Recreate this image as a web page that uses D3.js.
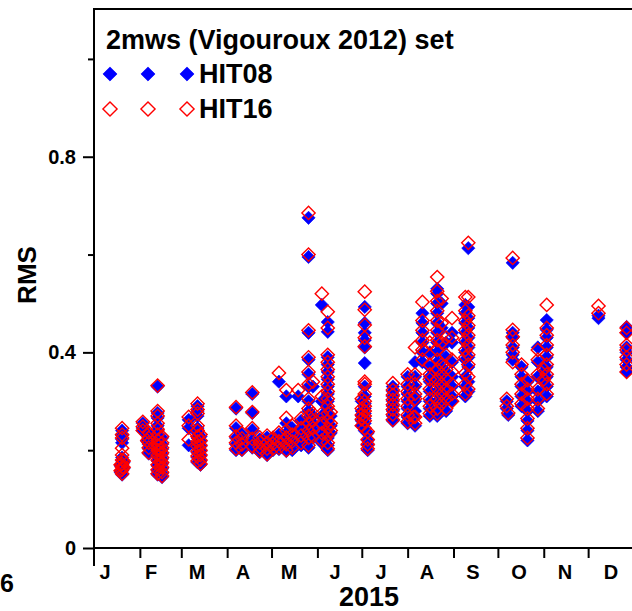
<html>

<head>
  <title>RMS 2mws HIT08 / HIT16</title>
  <style>
    body { margin: 0; background: #fff; }
    text { font-family: "Liberation Sans", Arial, sans-serif; font-weight: bold; }
  </style>
</head>

<body>
  <script src="https://d3js.org/d3.v7.min.js"></script>
  <script>
    // day of year, RMS for HIT08 and HIT16
    var days = [
      19, 19, 19, 19, 19, 19, 19, 19, 19, 19, 20, 20, 18, 18,
      33, 33, 33, 37, 37, 37, 37, 37, 36,
      43, 43, 43, 43, 43, 43, 43, 43, 43, 43, 43, 43, 43, 43,
      46, 46, 46, 46, 46, 46, 46, 46, 46, 45, 45,
      64, 64, 64,
      70, 70, 70, 70, 70, 70, 70, 70, 70, 70, 70,
      72, 72, 72, 72, 72, 72, 72,
      96, 96, 96, 96, 96, 100, 100, 100, 100,
      107, 107, 107, 107, 107, 112, 112, 112, 112,
      117, 117, 117, 117, 121, 121, 121,
      125, 125, 125, 125, 130, 130, 130, 130, 130, 130,
      134, 134, 134, 134, 138, 140, 140, 140, 140,
      145, 145, 145, 145, 145, 145, 145, 145, 145, 145, 145, 145, 145,
      148, 148, 148, 148, 148,
      154, 154, 154, 154, 154, 154,
      158, 158, 158, 158, 158, 158, 158, 158, 158, 158, 158, 158, 158, 158, 158, 158,
      160, 160, 160,
      183, 183, 183, 183, 183, 183, 183, 183, 183, 183, 183, 183, 183, 183,
      181, 181, 181, 181, 181, 185, 185, 185, 185,
      202, 202, 202, 202, 202, 202, 202, 202,
      212, 212, 212, 212, 212, 212, 212, 216,
      217, 217, 217, 217, 217, 217, 217,
      222, 222, 222, 222, 222, 222,
      227, 227, 227, 227, 227, 227, 227, 227,
      232, 232, 232, 232, 232, 232, 232, 232, 232, 232, 232, 232, 232, 232, 232,
      235, 235, 235, 235, 235, 235, 235, 235,
      238, 238, 238, 238, 238, 238, 238,
      242, 242, 242, 242, 242, 242, 242,
      251, 251, 251, 251, 251, 251, 251, 251, 251, 251,
      253, 253, 253, 253, 253, 253, 253, 253, 253, 253,
      283, 283, 283, 283, 283, 283, 280, 279, 279,
      289, 289, 289, 289, 289,
      293, 293, 293, 293, 293, 293, 293,
      300, 300, 300, 300, 300, 300,
      306, 306, 306, 306, 306, 306, 306, 306, 306, 304, 304,
      341, 341,
      360, 360, 360, 360, 360, 360, 360
    ];
    var hit08 = [
      0.240, 0.230, 0.222, 0.215, 0.185, 0.178, 0.170, 0.165, 0.158, 0.150, 0.175, 0.163, 0.168, 0.155,
      0.255, 0.245, 0.240, 0.233, 0.222, 0.212, 0.203, 0.193, 0.218,
      0.330, 0.276, 0.266, 0.250, 0.240, 0.228, 0.218, 0.208, 0.198, 0.188, 0.178, 0.168, 0.158, 0.150,
      0.225, 0.212, 0.202, 0.192, 0.182, 0.172, 0.162, 0.152, 0.145, 0.195, 0.175,
      0.262, 0.245, 0.210,
      0.290, 0.280, 0.270, 0.245, 0.235, 0.225, 0.215, 0.205, 0.195, 0.185, 0.175,
      0.228, 0.218, 0.208, 0.198, 0.188, 0.178, 0.170,
      0.285, 0.245, 0.225, 0.212, 0.200, 0.232, 0.220, 0.210, 0.200,
      0.315, 0.276, 0.241, 0.220, 0.205, 0.222, 0.213, 0.204, 0.196,
      0.226, 0.212, 0.200, 0.190, 0.222, 0.210, 0.200,
      0.340, 0.232, 0.215, 0.202, 0.310, 0.255, 0.235, 0.222, 0.210, 0.198,
      0.245, 0.230, 0.215, 0.200, 0.310, 0.260, 0.240, 0.225, 0.210,
      0.675, 0.595, 0.440, 0.385, 0.355, 0.330, 0.300, 0.280, 0.265, 0.250, 0.235, 0.220, 0.205,
      0.330, 0.270, 0.255, 0.240, 0.225,
      0.497, 0.300, 0.270, 0.250, 0.230, 0.215,
      0.462, 0.442, 0.390, 0.375, 0.360, 0.345, 0.330, 0.315, 0.300, 0.285, 0.270, 0.255, 0.240, 0.225, 0.210, 0.200,
      0.270, 0.250, 0.235,
      0.493, 0.460, 0.440, 0.425, 0.410, 0.378, 0.330, 0.310, 0.295, 0.285, 0.275, 0.265, 0.255, 0.240,
      0.300, 0.280, 0.270, 0.260, 0.250, 0.235, 0.220, 0.210, 0.200,
      0.330, 0.320, 0.310, 0.300, 0.290, 0.280, 0.270, 0.260,
      0.350, 0.330, 0.315, 0.300, 0.285, 0.268, 0.255, 0.270,
      0.380, 0.350, 0.330, 0.310, 0.300, 0.280, 0.250,
      0.480, 0.460, 0.440, 0.420, 0.400, 0.380,
      0.400, 0.370, 0.350, 0.340, 0.320, 0.300, 0.285, 0.270,
      0.530, 0.520, 0.500, 0.480, 0.460, 0.440, 0.420, 0.400, 0.380, 0.360, 0.340, 0.320, 0.300, 0.280, 0.270,
      0.500, 0.450, 0.410, 0.370, 0.350, 0.330, 0.310, 0.290,
      0.420, 0.390, 0.360, 0.340, 0.320, 0.300, 0.280,
      0.440, 0.420, 0.380, 0.350, 0.330, 0.310, 0.300,
      0.497, 0.480, 0.460, 0.440, 0.420, 0.400, 0.385, 0.350, 0.330, 0.310,
      0.613, 0.493, 0.470, 0.450, 0.430, 0.410, 0.390, 0.370, 0.340, 0.320,
      0.583, 0.440, 0.430, 0.410, 0.395, 0.385, 0.272, 0.300, 0.285,
      0.370, 0.350, 0.330, 0.310, 0.290,
      0.340, 0.320, 0.300, 0.280, 0.260, 0.240, 0.220,
      0.410, 0.380, 0.350, 0.320, 0.300, 0.280,
      0.466, 0.446, 0.430, 0.410, 0.390, 0.370, 0.350, 0.330, 0.310, 0.360, 0.340,
      0.475, 0.470,
      0.452, 0.440, 0.410, 0.400, 0.385, 0.370, 0.360
    ];
    var hit16 = [
      0.245, 0.232, 0.225, 0.204, 0.190, 0.180, 0.172, 0.165, 0.160, 0.152, 0.178, 0.165, 0.170, 0.158,
      0.258, 0.248, 0.240, 0.236, 0.225, 0.215, 0.205, 0.195, 0.220,
      0.332, 0.280, 0.270, 0.255, 0.243, 0.232, 0.220, 0.210, 0.200, 0.190, 0.180, 0.170, 0.160, 0.152,
      0.228, 0.215, 0.205, 0.195, 0.185, 0.175, 0.165, 0.155, 0.147, 0.200, 0.178,
      0.268, 0.250, 0.222,
      0.295, 0.283, 0.275, 0.250, 0.240, 0.228, 0.218, 0.208, 0.198, 0.188, 0.178,
      0.232, 0.220, 0.210, 0.200, 0.190, 0.180, 0.172,
      0.288, 0.250, 0.228, 0.215, 0.203, 0.235, 0.224, 0.212, 0.202,
      0.318, 0.278, 0.245, 0.223, 0.208, 0.226, 0.216, 0.206, 0.198,
      0.230, 0.215, 0.203, 0.192, 0.225, 0.213, 0.203,
      0.358, 0.236, 0.218, 0.205, 0.323, 0.266, 0.240, 0.226, 0.212, 0.200,
      0.250, 0.232, 0.218, 0.205, 0.323, 0.265, 0.245, 0.230, 0.215,
      0.685, 0.600, 0.445, 0.390, 0.360, 0.335, 0.305, 0.285, 0.270, 0.255, 0.240, 0.225, 0.210,
      0.340, 0.275, 0.260, 0.245, 0.228,
      0.520, 0.310, 0.275, 0.255, 0.235, 0.220,
      0.483, 0.450, 0.395, 0.380, 0.365, 0.350, 0.335, 0.320, 0.305, 0.290, 0.275, 0.260, 0.245, 0.230, 0.215, 0.203,
      0.278, 0.255, 0.240,
      0.524, 0.487, 0.456, 0.430, 0.412, 0.340, 0.335, 0.315, 0.300, 0.290, 0.280, 0.270, 0.260, 0.245,
      0.305, 0.285, 0.272, 0.263, 0.250, 0.238, 0.222, 0.212, 0.203,
      0.337, 0.323, 0.313, 0.303, 0.293, 0.283, 0.273, 0.262,
      0.355, 0.335, 0.320, 0.305, 0.290, 0.272, 0.258, 0.268,
      0.410, 0.355, 0.335, 0.315, 0.305, 0.268, 0.255,
      0.503, 0.465, 0.445, 0.425, 0.405, 0.385,
      0.420, 0.375, 0.355, 0.345, 0.325, 0.305, 0.290, 0.275,
      0.554, 0.525, 0.505, 0.485, 0.465, 0.445, 0.425, 0.405, 0.385, 0.365, 0.345, 0.325, 0.305, 0.285, 0.275,
      0.510, 0.460, 0.420, 0.375, 0.355, 0.335, 0.315, 0.295,
      0.430, 0.395, 0.365, 0.345, 0.325, 0.305, 0.285,
      0.470, 0.430, 0.385, 0.360, 0.335, 0.315, 0.300,
      0.513, 0.485, 0.465, 0.445, 0.425, 0.405, 0.390, 0.358, 0.335, 0.315,
      0.624, 0.513, 0.475, 0.455, 0.435, 0.415, 0.395, 0.375, 0.350, 0.325,
      0.593, 0.446, 0.432, 0.415, 0.400, 0.380, 0.276, 0.305, 0.290,
      0.375, 0.355, 0.335, 0.315, 0.295,
      0.343, 0.325, 0.305, 0.285, 0.265, 0.245, 0.225,
      0.405, 0.385, 0.355, 0.325, 0.305, 0.285,
      0.497, 0.450, 0.435, 0.415, 0.395, 0.375, 0.355, 0.335, 0.315, 0.365, 0.345,
      0.495, 0.480,
      0.450, 0.440, 0.415, 0.405, 0.390, 0.375, 0.360
    ];
    var monthStarts = [0, 31, 59, 90, 120, 151, 181, 212, 243, 273, 304, 334, 365];
    var monthLabels = ["J", "F", "M", "A", "M", "J", "J", "A", "S", "O", "N", "D"];
    var yMajor = [0, 0.4, 0.8];
    var yMinor = [0.2, 0.6, 1.0];
    var series = [
      { name: "HIT08", values: hit08, fill: "#0000ff", stroke: "#0000ff" },
      { name: "HIT16", values: hit16, fill: "none", stroke: "#ff0000" }
    ];

    var W = 632, H = 611;
    var svg = d3.select("body").append("svg")
      .attr("width", W)
      .attr("height", H);

    var x = d3.scaleLinear().domain([0, 365]).range([94, 634]);
    var y = d3.scaleLinear().domain([0, 1.1]).range([548, 10]);

    // diamonds = squares turned 45 degrees
    var diamond = d3.symbol().type(d3.symbolSquare).size(88);
    var legendDiamond = d3.symbol().type(d3.symbolSquare).size(100);

    series.forEach(function (s) {
      svg.append("g").selectAll("path")
        .data(days.map(function (d, i) { return [d, s.values[i]]; }))
        .enter()
        .append("path")
        .attr("d", diamond)
        .attr("transform", function (d) { return "translate(" + x(d[0]) + "," + y(d[1]) + ") rotate(45)"; })
        .attr("fill", s.fill)
        .attr("stroke", s.stroke)
        .attr("stroke-width", s.fill == "none" ? 1.4 : 0.6);
    });

    // frame top
    svg.append("line")
      .attr("x1", 93).attr("x2", W).attr("y1", 9).attr("y2", 9)
      .attr("stroke", "#000").attr("stroke-width", 2);

    // y axis
    var yAxis = d3.axisLeft(y).tickValues(yMajor).tickSize(11).tickPadding(7)
      .tickFormat(function (d) { return d == 0 ? "0" : d3.format(".1f")(d); });
    var gy = svg.append("g").attr("transform", "translate(94,0)").call(yAxis);
    var gyMinor = svg.append("g").attr("transform", "translate(94,0)")
      .call(d3.axisLeft(y).tickValues(yMinor).tickSize(6).tickFormat(""));
    [gy, gyMinor].forEach(function (g) {
      g.select(".domain").remove();
      g.selectAll("line").attr("stroke-width", 2);
    });
    gy.selectAll("text").style("font-size", "20px").attr("fill", "#000");
    svg.append("line")
      .attr("x1", 94).attr("x2", 94).attr("y1", 8).attr("y2", 566)
      .attr("stroke", "#000").attr("stroke-width", 2);

    // x axis
    var xAxis = d3.axisBottom(x).tickValues(monthStarts.slice(1, 12)).tickSize(10).tickFormat("");
    var gx = svg.append("g").attr("transform", "translate(0,548)").call(xAxis);
    gx.select(".domain").remove();
    gx.selectAll("line").attr("stroke-width", 2);
    svg.append("line")
      .attr("x1", 94).attr("x2", W).attr("y1", 548).attr("y2", 548)
      .attr("stroke", "#000").attr("stroke-width", 2);

    var xl = d3.scalePoint().domain(d3.range(12)).range([105, 611]);
    svg.append("g").selectAll("text")
      .data(monthLabels)
      .enter()
      .append("text")
      .attr("x", function (d, i) { return xl(i); })
      .attr("y", 579)
      .attr("text-anchor", "middle")
      .style("font-size", "20px")
      .text(function (d) { return d; });

    svg.append("text")
      .attr("x", 369).attr("y", 606)
      .attr("text-anchor", "middle")
      .style("font-size", "27px")
      .text("2015");

    svg.append("text")
      .attr("transform", "translate(36,275) rotate(-90)")
      .attr("text-anchor", "middle")
      .style("font-size", "26px")
      .text("RMS");

    // edge of the neighbouring panel
    svg.append("text")
      .attr("x", 0).attr("y", 592)
      .style("font-size", "25px")
      .text("6");

    // title and legend
    svg.append("text")
      .attr("x", 106).attr("y", 49)
      .style("font-size", "27px")
      .text("2mws (Vigouroux 2012) set");

    var legendX = [110, 148, 187];
    series.forEach(function (s, j) {
      var ly = 74 + j * 35;
      legendX.forEach(function (lx) {
        svg.append("path")
          .attr("d", legendDiamond)
          .attr("transform", "translate(" + lx + "," + ly + ") rotate(45)")
          .attr("fill", s.fill)
          .attr("stroke", s.stroke)
          .attr("stroke-width", s.fill == "none" ? 1.4 : 0.6);
      });
      svg.append("text")
        .attr("x", 199).attr("y", ly + 9)
        .style("font-size", "27px")
        .text(s.name);
    });
  </script>
</body>

</html>
